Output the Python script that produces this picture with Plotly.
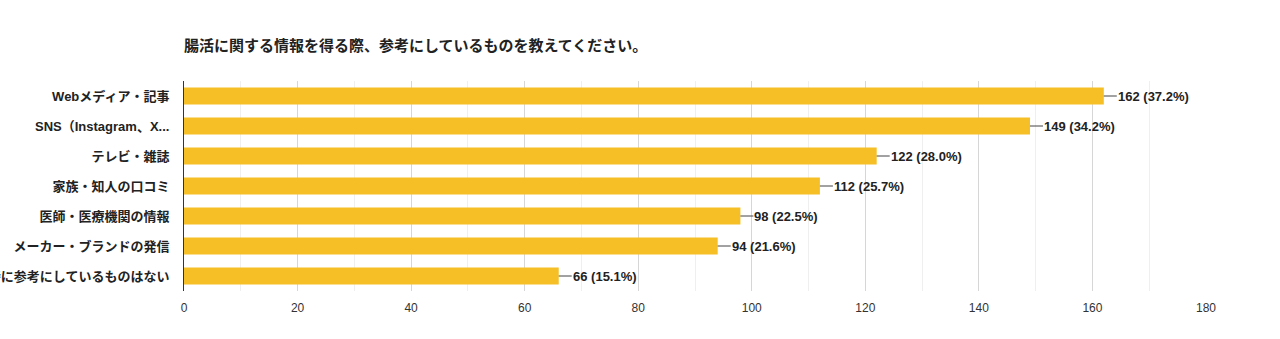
import plotly.graph_objects as go

categories = [
    "Webメディア・記事",
    "SNS（Instagram、X...",
    "テレビ・雑誌",
    "家族・知人の口コミ",
    "医師・医療機関の情報",
    "メーカー・ブランドの発信",
    "特に参考にしているものはない",
]
counts = [162, 149, 122, 112, 98, 94, 66]
percents = [37.2, 34.2, 28.0, 25.7, 22.5, 21.6, 15.1]
x_ticks = [0, 20, 40, 60, 80, 100, 120, 140, 160, 180]
title = "腸活に関する情報を得る際、参考にしているものを教えてください。"

FONT = "Liberation Sans, Arial, Noto Sans CJK JP, sans-serif"

fig = go.Figure(
    go.Bar(
        x=counts,
        y=categories,
        orientation="h",
        marker=dict(color="#F6BF26", line=dict(width=0)),
        hoverinfo="skip",
    )
)

for c, v, p in zip(categories, counts, percents):
    fig.add_annotation(
        x=v, y=c, text=f"{v} ({p:.1f}%)",
        showarrow=True, arrowhead=0, arrowwidth=1, arrowcolor="#444",
        ax=13, ay=0, xanchor="left",
        font=dict(family=FONT, size=13, color="#222", weight="bold"),
        borderpad=0,
    )

fig.update_layout(
    width=1280, height=339,
    margin=dict(l=184, r=74, t=81, b=48),
    paper_bgcolor="white", plot_bgcolor="white",
    bargap=0.43,
    showlegend=False,
    title=dict(
        text=title, x=184 / 1280, xanchor="left", y=1 - 46 / 339, yanchor="middle",
        font=dict(family=FONT, size=15, color="#222", weight="bold"),
    ),
)
fig.update_xaxes(
    range=[0, 180], tickvals=x_ticks, showgrid=True, gridcolor="#d6d6d6", gridwidth=1,
    minor=dict(dtick=10, showgrid=True, gridcolor="#efefef", gridwidth=1),
    zeroline=False, showline=False, ticks="", ticklabelstandoff=8,
    tickfont=dict(family=FONT, size=12, color="#333"),
    fixedrange=True,
)
fig.update_yaxes(
    autorange="reversed", automargin=False, showline=True, linecolor="#333", linewidth=1,
    ticks="", ticklabelstandoff=11,
    tickfont=dict(family=FONT, size=13, color="#222", weight="bold"),
    showgrid=False, fixedrange=True,
)

fig.write_html("out.html")
